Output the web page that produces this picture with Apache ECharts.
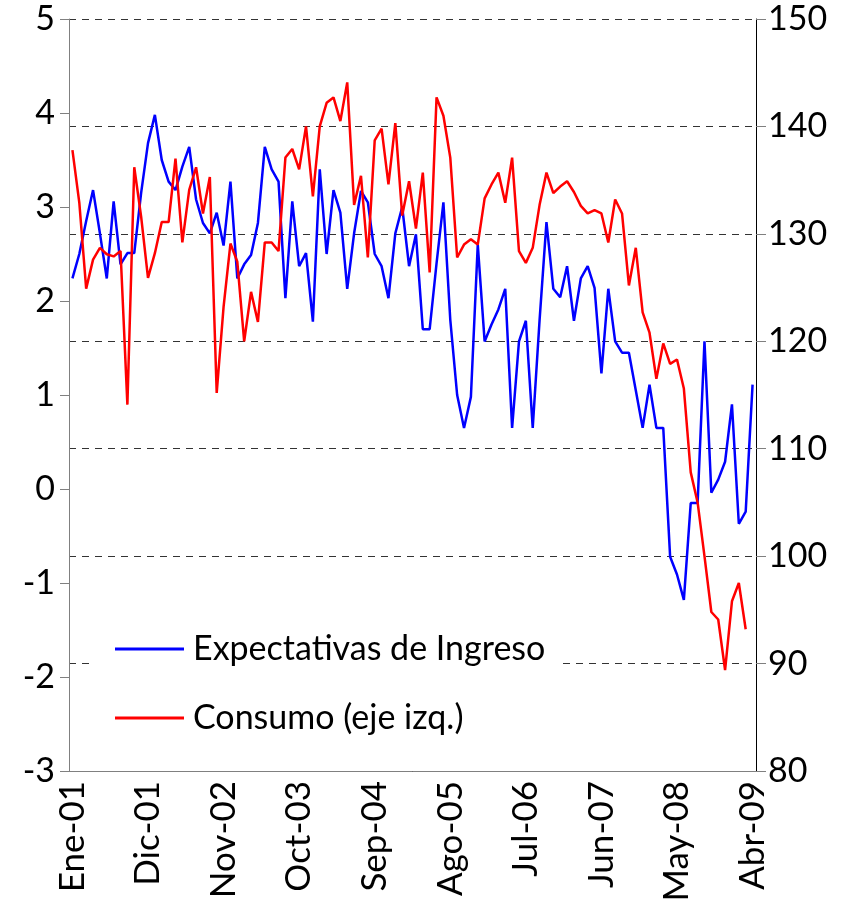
<!DOCTYPE html>
<html>
<head>
<meta charset="utf-8">
<script src="https://cdn.jsdelivr.net/npm/echarts@6/dist/echarts.min.js"></script>
<style>
  html, body { margin: 0; padding: 0; background: #fff; }
  #chart { width: 847px; height: 921px; }
</style>
</head>
<body>
<div id="chart"></div>
<script>
var meses = ["Ene", "Feb", "Mar", "Abr", "May", "Jun", "Jul", "Ago", "Sep", "Oct", "Nov", "Dic"];
var categorias = [];
for (var k = 0; k < 100; k++) {
  var yy = 1 + Math.floor(k / 12);
  categorias.push(meses[k % 12] + "-" + (yy < 10 ? "0" + yy : "" + yy));
}

// Expectativas de Ingreso (eje izquierdo)
var expectativas = [
  2.24, 2.5, 2.85, 3.18, 2.72, 2.24, 3.06, 2.39, 2.51, 2.51,
  3.15, 3.68, 3.98, 3.50, 3.27, 3.18, 3.43, 3.64, 3.08, 2.83,
  2.72, 2.94, 2.59, 3.27, 2.24, 2.39, 2.49, 2.83, 3.64, 3.40,
  3.27, 2.03, 3.06, 2.37, 2.51, 1.78, 3.40, 2.50, 3.18, 2.94,
  2.13, 2.72, 3.17, 3.05, 2.50, 2.37, 2.03, 2.72, 3.0, 2.37,
  2.71, 1.70, 1.70, 2.4, 3.05, 1.8, 1.0, 0.65, 0.98, 2.60,
  1.57, 1.75, 1.91, 2.13, 0.65, 1.57, 1.79, 0.65, 1.8, 2.84,
  2.13, 2.04, 2.37, 1.79, 2.24, 2.37, 2.14, 1.23, 2.13, 1.57,
  1.45, 1.45, 1.05, 0.65, 1.11, 0.65, 0.65, -0.72, -0.91, -1.18,
  -0.15, -0.15, 1.57, -0.04, 0.10, 0.29, 0.90, -0.37, -0.24, 1.11
];

// Consumo (eje derecho, 80-150)
var consumo = [
  137.8, 132.9, 124.9, 127.6, 128.7, 128.1, 127.9, 128.4, 114.1, 136.2,
  131.6, 125.9, 128.2, 131.1, 131.1, 137.0, 129.2, 134.1, 136.2, 131.9,
  135.3, 115.2, 123.2, 129.1, 127.4, 120.0, 124.6, 121.8, 129.2, 129.2,
  128.4, 137.1, 137.9, 136.0, 140.0, 133.5, 140.0, 142.2, 142.7, 140.5,
  144.1, 132.7, 135.4, 127.8, 138.7, 139.8, 134.6, 140.3, 131.7, 134.9,
  130.5, 135.7, 126.4, 142.7, 141.0, 137.1, 127.8, 129.0, 129.5, 129.0,
  133.3, 134.6, 135.7, 132.9, 137.1, 128.4, 127.3, 128.7, 132.7, 135.7,
  133.8, 134.4, 134.9, 133.9, 132.6, 131.9, 132.2, 131.9, 129.2, 133.2,
  131.9, 125.2, 128.7, 122.7, 120.8, 116.5, 119.8, 117.9, 118.3, 115.6,
  107.8, 105.0, 100.0, 94.8, 94.1, 89.4, 95.8, 97.5, 93.2
];

var fuente = "Lato";
var ejeColor = "#808080";

var chart = echarts.init(document.getElementById("chart"), null, { renderer: "canvas" });
var option = {
  animation: false,
  backgroundColor: "#fff",
  textStyle: { fontFamily: fuente },
  grid: { left: 69, right: 91, top: 19, bottom: 150, containLabel: false },
  legend: {
    orient: "vertical",
    left: 92,
    top: 624,
    backgroundColor: "#fff",
    padding: [8, 12, 8, 23],
    itemGap: 35,
    itemWidth: 69,
    itemHeight: 3,
    icon: "rect",
    textStyle: { fontSize: 34, color: "#000", fontFamily: fuente, padding: [0, 0, 0, 4] },
    data: ["Expectativas de Ingreso", "Consumo (eje izq.)"]
  },
  xAxis: {
    type: "category",
    data: categorias,
    boundaryGap: true,
    axisLine: { onZero: false, lineStyle: { color: ejeColor, width: 1 } },
    axisTick: { interval: 10, length: 11, lineStyle: { color: "#000" } },
    axisLabel: { interval: 10, rotate: 90, margin: 10, fontSize: 35, color: "#000", fontFamily: fuente }
  },
  yAxis: [
    {
      type: "value",
      min: -3, max: 5, interval: 1,
      position: "left",
      axisLine: { show: true, lineStyle: { color: ejeColor } },
      axisTick: { show: true, length: 9, lineStyle: { color: ejeColor } },
      axisLabel: { fontSize: 34, color: "#000", margin: 14, fontFamily: fuente },
      splitLine: { show: false }
    },
    {
      type: "value",
      min: 80, max: 150, interval: 10,
      position: "right",
      axisLine: { show: true, lineStyle: { color: "#000" } },
      axisTick: { show: true, length: 10, lineStyle: { color: ejeColor } },
      axisLabel: { fontSize: 34, color: "#000", margin: 12, fontFamily: fuente },
      splitLine: { show: true, lineStyle: { color: "#333", type: [7, 6], width: 1 } }
    }
  ],
  series: [
    {
      name: "Expectativas de Ingreso",
      type: "line",
      yAxisIndex: 0,
      data: expectativas,
      symbol: "none",
      color: "#0000ff",
      lineStyle: { width: 2.5, color: "#0000ff" }
    },
    {
      name: "Consumo (eje izq.)",
      type: "line",
      yAxisIndex: 1,
      data: consumo,
      symbol: "none",
      color: "#ff0000",
      lineStyle: { width: 2.5, color: "#ff0000" }
    }
  ]
};
chart.setOption(option);
</script>
</body>
</html>
